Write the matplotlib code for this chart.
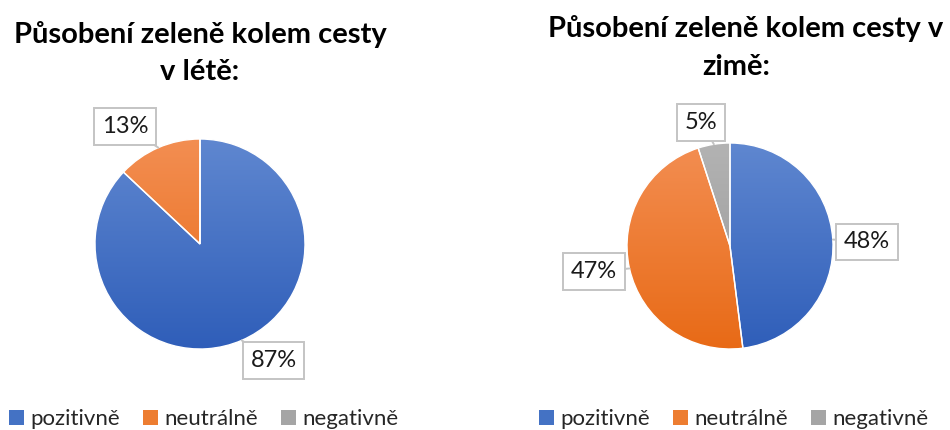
import numpy as np
import matplotlib
matplotlib.use('Agg')
import matplotlib.pyplot as plt
from matplotlib.colors import LinearSegmentedColormap
from matplotlib.patches import Rectangle

plt.rcParams['font.family'] = ['Lato', 'DejaVu Sans']

kategorie = ['pozitivně', 'neutrálně', 'negativně']
leto = [87, 13, 0]
zima = [48, 47, 5]
nadpis_leto = ['Působení zeleně kolem cesty', 'v létě:']
nadpis_zima = ['Působení zeleně kolem cesty v', 'zimě:']

# (horni, dolni) barva prechodu
barvy = [('#5f87d0', '#2f5eb9'), ('#f38e52', '#e86a16'), ('#b3b3b3', '#959595')]
barvy_leg = ['#4472c4', '#ed7d31', '#a5a5a5']

# posun popisku od stredu (jednotky polomeru)
pozice_leto = [(0.70, -1.11), (-0.71, 1.12), None]
pozice_zima = [(1.33, 0.04), (-1.32, -0.25), (-0.28, 1.20)]

W, H = 950, 430
fig = plt.figure(figsize=(9.5, 4.3), dpi=100)


def kolac(cx, cy, r, hodnoty, pozice, nadpis, tx, leg_x):
    L = 1.6
    s = 2 * L * r
    ax = fig.add_axes([(cx - s / 2) / W, (H - cy - s / 2) / H, s / W, s / H])
    wedges, _ = ax.pie(hodnoty, startangle=90, counterclock=False, radius=1,
                       wedgeprops=dict(edgecolor='white', linewidth=1))
    grad = np.linspace(0, 1, 256).reshape(-1, 1)
    for w, (c1, c2) in zip(wedges, barvy):
        cmap = LinearSegmentedColormap.from_list('g', [c1, c2])
        im = ax.imshow(grad, extent=(-1, 1, -1, 1), cmap=cmap, aspect='auto',
                       origin='upper', zorder=0.5)
        im.set_clip_path(w)
        w.set_facecolor('none')
        w.set_zorder(1)
    for w, v, p in zip(wedges, hodnoty, pozice):
        if v == 0 or p is None:
            continue
        a = np.deg2rad((w.theta1 + w.theta2) / 2)
        ax.annotate(f'{v}%', xy=(np.cos(a), np.sin(a)), xytext=p,
                    ha='center', va='center', fontsize=17, color='#1a1a1a',
                    bbox=dict(boxstyle='square,pad=0.33', fc='white',
                              ec='#c4c4c4', lw=1.4),
                    arrowprops=dict(arrowstyle='-', color='#c4c4c4', lw=1.4,
                                    shrinkA=0, shrinkB=0),
                    zorder=3)
    ax.set_xlim(-L, L)
    ax.set_ylim(-L, L)
    ax.set_aspect('equal')
    ax.axis('off')

    for (x, y), t in zip(tx, nadpis):
        fig.text(x / W, 1 - y / H, t, ha='center', va='center',
                 fontsize=21, fontweight='bold', color='black')

    handles = [Rectangle((0, 0), 1, 1, fc=c, ec='none') for c in barvy_leg]
    fig.legend(handles, kategorie, loc='center',
               bbox_to_anchor=(leg_x / W, 1 - 419 / H), ncol=3, frameon=False,
               fontsize=16, handlelength=0.65, handleheight=0.65,
               handletextpad=0.3, columnspacing=1.05, labelcolor='#262626')


kolac(200, 244, 105, leto, pozice_leto, nadpis_leto,
      [(200, 35), (200, 72)], 204)
kolac(730, 246, 103, zima, pozice_zima, nadpis_zima,
      [(746, 29), (736, 67)], 734)

fig.savefig('out.png', dpi=100)
